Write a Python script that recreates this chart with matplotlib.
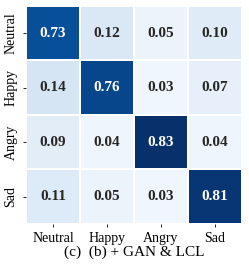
import numpy as np
import matplotlib
matplotlib.use("Agg")
import matplotlib.pyplot as plt
import seaborn as sns

labels = ["Neutral", "Happy", "Angry", "Sad"]
values = [
    [0.73, 0.12, 0.05, 0.10],
    [0.14, 0.76, 0.03, 0.07],
    [0.09, 0.04, 0.83, 0.04],
    [0.11, 0.05, 0.03, 0.81],
]
title = "(c)  (b) + GAN & LCL"

plt.rcParams['font.family'] = ['Liberation Serif', 'DejaVu Serif']

fig = plt.figure(figsize=(2.49, 2.67), dpi=100)
ax = fig.add_axes([0.104, 0.161, 0.868, 0.817])
sns.heatmap(np.array(values), ax=ax, cmap="Blues", vmin=0, vmax=0.83,
            annot=True, fmt=".2f", cbar=False, linewidths=0.3, linecolor="white",
            annot_kws={"fontsize": 11, "fontweight": "bold"},
            xticklabels=labels, yticklabels=labels)
ax.tick_params(axis='both', labelsize=10, length=2.5, width=0.6)
ax.set_yticklabels(labels, rotation=90, va='center')
ax.set_xticklabels(labels, rotation=0)
ax.set_xlabel(title, fontsize=11, labelpad=0)
fig.savefig("out.png", dpi=100)
